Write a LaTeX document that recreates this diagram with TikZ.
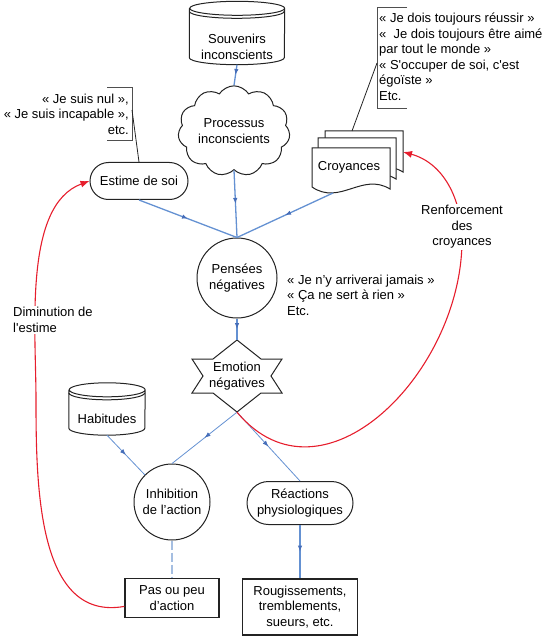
\documentclass[tikz,border=0pt]{standalone}
\usepackage{fontspec}
\setmainfont{Liberation Sans}
\usetikzlibrary{shapes.misc, shapes.symbols, calc, arrows.meta, decorations.markings}
\definecolor{linkblue}{RGB}{100,145,210}
\definecolor{tipblue}{RGB}{70,110,185}
\definecolor{paleblue}{RGB}{165,190,225}
\definecolor{loopred}{RGB}{230,30,45}
\definecolor{edgegray}{RGB}{35,35,35}
\tikzset{
  txt/.style={font=\fontsize{13}{15.5}\selectfont, align=center, inner sep=0pt},
  outline/.style={draw=edgegray, line width=1pt},
  bubble/.style={txt, outline, fill=white, circle},
  pill/.style={txt, outline, fill=white, rounded rectangle},
  boxnode/.style={txt, outline, fill=white, rectangle, line width=1.4pt},
  cloudnode/.style={txt, outline, fill=white, cloud, cloud puffs=11, cloud puff arc=115,
    aspect=1.3, minimum width=112pt, minimum height=88pt},
  drum/.style={inner sep=0pt},
  flow/.style={draw=linkblue, line width=1.3pt, postaction={decorate},
    decoration={markings, mark=at position 0.5 with {\arrow[tipblue]{Latex[length=6pt,width=4.5pt]}}}},
  thinflow/.style={flow, line width=0.8pt},
  dashflow/.style={draw=paleblue, line width=1.5pt, dash pattern=on 9pt off 3pt},
  loop/.style={draw=loopred, line width=1.1pt, -{Latex[length=9pt,width=7pt]}},
  notebrace/.style={draw=edgegray!80, line width=0.9pt},
  notelink/.style={draw=edgegray, line width=0.8pt},
  looplabel/.style={txt, fill=white, inner sep=1pt}
}
% cylinder outline around an empty node: name, half width
\newcommand{\drumoutline}[2]{%
  \draw[outline] ($(#1.north west)+(0,-7)$) -- ($(#1.south west)+(0,7)$)
    arc[start angle=180, end angle=360, x radius=#2, y radius=7]
    -- ($(#1.north east)+(0,-7)$)
    arc[start angle=0, end angle=360, x radius=#2, y radius=7];
  \draw[outline] ($(#1.north west)+(0,-10)$)
    arc[start angle=180, end angle=360, x radius=#2, y radius=7];
}

\begin{document}
\begin{tikzpicture}[x=1pt, y=1pt]
  \useasboundingbox (0,0) rectangle (551,-636);

  % souvenirs + processus
  \node[drum, minimum width=95pt, minimum height=63pt] (sou) at (237,-33) {};
  \drumoutline{sou}{47.5}
  \node[txt] (soutxt) at (237,-47) {Souvenirs\\inconscients};
  \node[cloudnode] (clo) at (234,-131) {Processus\\inconscients};

  % croyances (pile of documents)
  \foreach \dx/\dy in {13/17, 6/10, 0/0}
    \draw[outline, fill=white] (312+\dx,-148+\dy) -- (390+\dx,-148+\dy) -- (390+\dx,-189+\dy)
      .. controls (362+\dx,-172+\dy) and (340+\dx,-206+\dy) .. (312+\dx,-187+\dy) -- cycle;
  \node[txt] (cro) at (349,-167) {Croyances};
  \coordinate (crotop) at (352,-131);
  \coordinate (croside) at (403,-152);
  \coordinate (crobot) at (333,-193);

  \node[txt, align=left, anchor=west] (cronote) at (379,-57)
    {« Je dois toujours réussir »\\«\ \ Je dois toujours être aimé\\par tout le monde »\\« S\textquotesingle occuper de soi, c\textquotesingle est\\égoïste »\\Etc.};
  \draw[notebrace] (407,-7) -- (377,-7) -- (377,-108) -- (407,-108);
  \coordinate (crobrace) at (377,-63);
  \draw[notelink] (crobrace) -- (crotop);

  % estime de soi
  \node[pill, minimum width=98pt, minimum height=37pt] (est) at (139,-181) {Estime de soi};
  \node[txt, align=right, anchor=east] (estnote) at (129,-114)
    {« Je suis nul »,\\« Je suis incapable »,\\etc.};
  \draw[notebrace] (107,-87) -- (132,-87) -- (132,-140) -- (107,-140);
  \coordinate (estbrace) at (132,-110);
  \draw[notelink] (estbrace) -- (est.north);

  % pensees, emotion
  \node[bubble, minimum size=80pt] (pens) at (237,-278) {Pensées\\négatives};
  \node[txt, align=left, anchor=west] (pensnote) at (287,-295)
    {« Je n’y arriverai jamais »\\« Ça ne sert à rien »\\Etc.};
  \node[txt, minimum width=90pt, minimum height=72pt] (emo) at (237,-376) {Emotion\\négatives};
  \draw[outline, shift={(emo.center)}] (0,36) -- (24,17) -- (45,17) -- (34,0) -- (45,-17)
    -- (24,-17) -- (0,-36) -- (-24,-17) -- (-45,-17) -- (-34,0) -- (-45,17) -- (-24,17) -- cycle;

  % bottom part
  \node[drum, minimum width=76pt, minimum height=52pt] (hab) at (107,-409) {};
  \drumoutline{hab}{38}
  \node[txt] (habtxt) at (107,-419) {Habitudes};
  \node[bubble, minimum size=76pt] (inh) at (172,-502) {Inhibition\\de l’action};
  \node[pill, minimum width=106pt, minimum height=43pt] (rea) at (300,-503) {Réactions\\physiologiques};
  \node[boxnode, minimum width=94pt, minimum height=39pt] (pas) at (172,-598) {Pas ou peu\\d’action};
  \node[boxnode, minimum width=115pt, minimum height=56pt] (rou) at (300,-607) {Rougissements,\\tremblements,\\sueurs, etc.};

  % connectors
  \draw[flow] (sou.south) -- (clo.north);
  \draw[flow] (clo.south) -- (pens.north);
  \draw[flow] (est.south) -- (pens.north);
  \draw[flow] (crobot) -- (pens.north);
  \draw[flow] (pens.south) -- (emo.north);
  \draw[thinflow] (emo.south) -- (inh.north);
  \draw[thinflow] (emo.south) -- (rea.north);
  \draw[thinflow] (hab.south) -- (inh.135);
  \draw[flow] (rea.south) -- (rou.north);
  \draw[dashflow] (inh.south) -- (pas.north);

  % feedback loops
  \coordinate (dimmid) at (36,-400);
  \draw[loop] (pas.190) to[out=190, in=-90] (dimmid) to[out=90, in=200, looseness=0.8] (est.west);
  \coordinate (renfmid) at (462,-240);
  \draw[loop] (emo.south) to[out=-50, in=-90, looseness=1.2] (renfmid) to[out=90, in=-15] (croside);
  \node[looplabel, align=left, anchor=west] (dimlabel) at (12,-320) {Diminution de\\l\textquotesingle estime};
  \node[looplabel] (renflabel) at (462,-227) {Renforcement\\des\\croyances};
\end{tikzpicture}
\end{document}
